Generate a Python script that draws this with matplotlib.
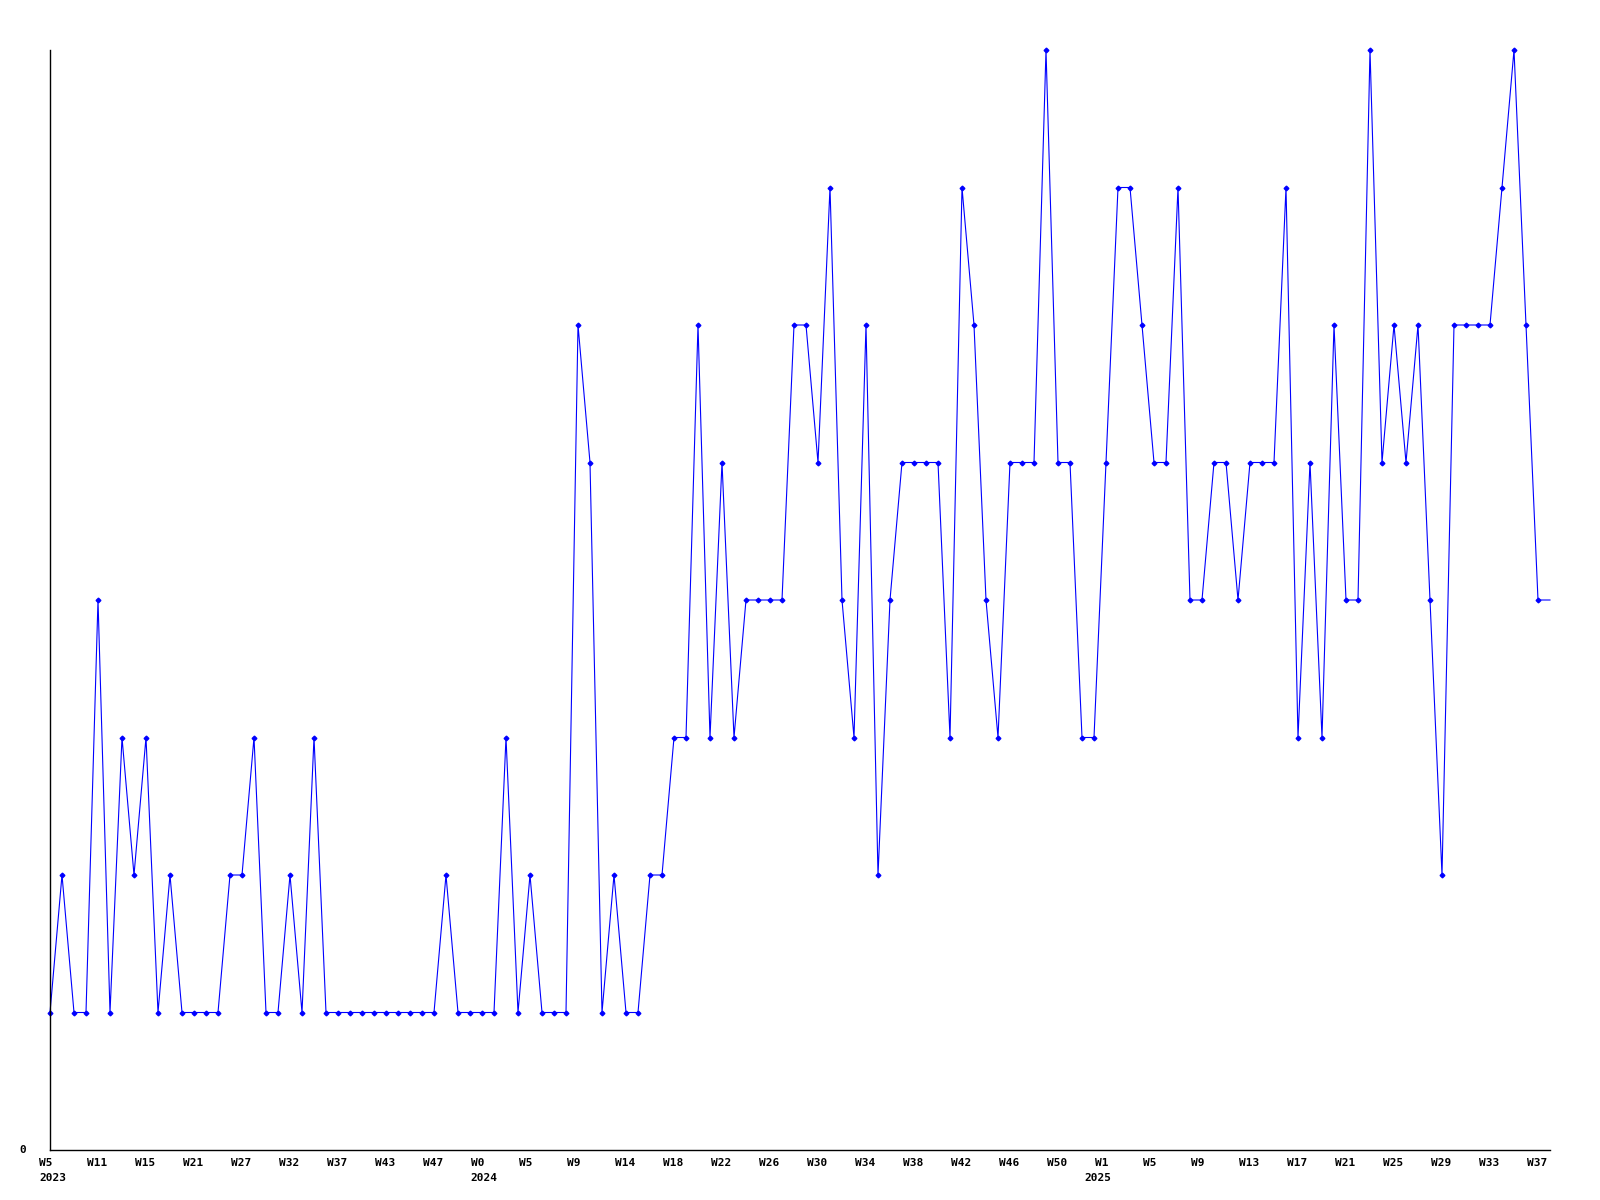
import matplotlib
matplotlib.use("Agg")
import matplotlib.pyplot as plt
from matplotlib.transforms import offset_copy

# weekly counts, one value per data point (last point sits on the right edge)
values = [1, 2, 1, 1, 4, 1, 3, 2, 3, 1,
          2, 1, 1, 1, 1, 2, 2, 3, 1, 1,
          2, 1, 3, 1, 1, 1, 1, 1, 1, 1,
          1, 1, 1, 2, 1, 1, 1, 1, 3, 1,
          2, 1, 1, 1, 6, 5, 1, 2, 1, 1,
          2, 2, 3, 3, 6, 3, 5, 3, 4, 4,
          4, 4, 6, 6, 5, 7, 4, 3, 6, 2,
          4, 5, 5, 5, 5, 3, 7, 6, 4, 3,
          5, 5, 5, 8, 5, 5, 3, 3, 5, 7,
          7, 6, 5, 5, 7, 4, 4, 5, 5, 4,
          5, 5, 5, 7, 3, 5, 3, 6, 4, 4,
          8, 5, 6, 5, 6, 4, 2, 6, 6, 6,
          6, 7, 8, 6, 4, 4]

# x labels, one every 4 points
week_labels = ["W5", "W11", "W15", "W21", "W27", "W32", "W37", "W43", "W47",
               "W0", "W5", "W9", "W14", "W18", "W22", "W26", "W30", "W34",
               "W38", "W42", "W46", "W50", "W1", "W5", "W9", "W13", "W17",
               "W21", "W25", "W29", "W33", "W37"]
years = ["2023", "2024", "2025"]
year_ticks = [0, 9, 22]   # which week label the year goes under

x = list(range(len(values)))
tick_pos = [4 * k for k in range(len(week_labels))]

fig = plt.figure(figsize=(16, 12), dpi=100)
ax = fig.add_axes([50 / 1600, 50 / 1200, 1500 / 1600, 1100 / 1200])

ax.plot(x, values, color="#0000ff", linewidth=0.8, marker="D", markersize=2.4,
        markevery=list(range(len(values) - 1)), clip_on=False)

ax.set_xlim(0, len(values) - 1)
ax.set_ylim(0, 8)
ax.set_xticks([])
ax.set_yticks([])
for s in ["top", "right"]:
    ax.spines[s].set_visible(False)
for s in ["left", "bottom"]:
    ax.spines[s].set_linewidth(1.0)
    ax.spines[s].set_color("black")

font = dict(family="DejaVu Sans Mono", weight="bold", size=8)
xtrans = ax.get_xaxis_transform()
for pos, lab in zip(tick_pos, week_labels):
    ax.text(pos, 0, lab, ha="left", va="top", clip_on=False,
            transform=offset_copy(xtrans, fig=fig, x=-11, y=-8, units="dots"), **font)

year_dx = [-11, -12, -22]
for yr, k, dx in zip(years, year_ticks, year_dx):
    ax.text(tick_pos[k], 0, yr, ha="left", va="top", clip_on=False,
            transform=offset_copy(xtrans, fig=fig, x=dx, y=-23, units="dots"), **font)

ytrans = ax.get_yaxis_transform()
ax.text(0, 0, "0", ha="right", va="center", clip_on=False,
        transform=offset_copy(ytrans, fig=fig, x=-24, y=0, units="dots"), **font)

fig.savefig("out.png", dpi=100)
